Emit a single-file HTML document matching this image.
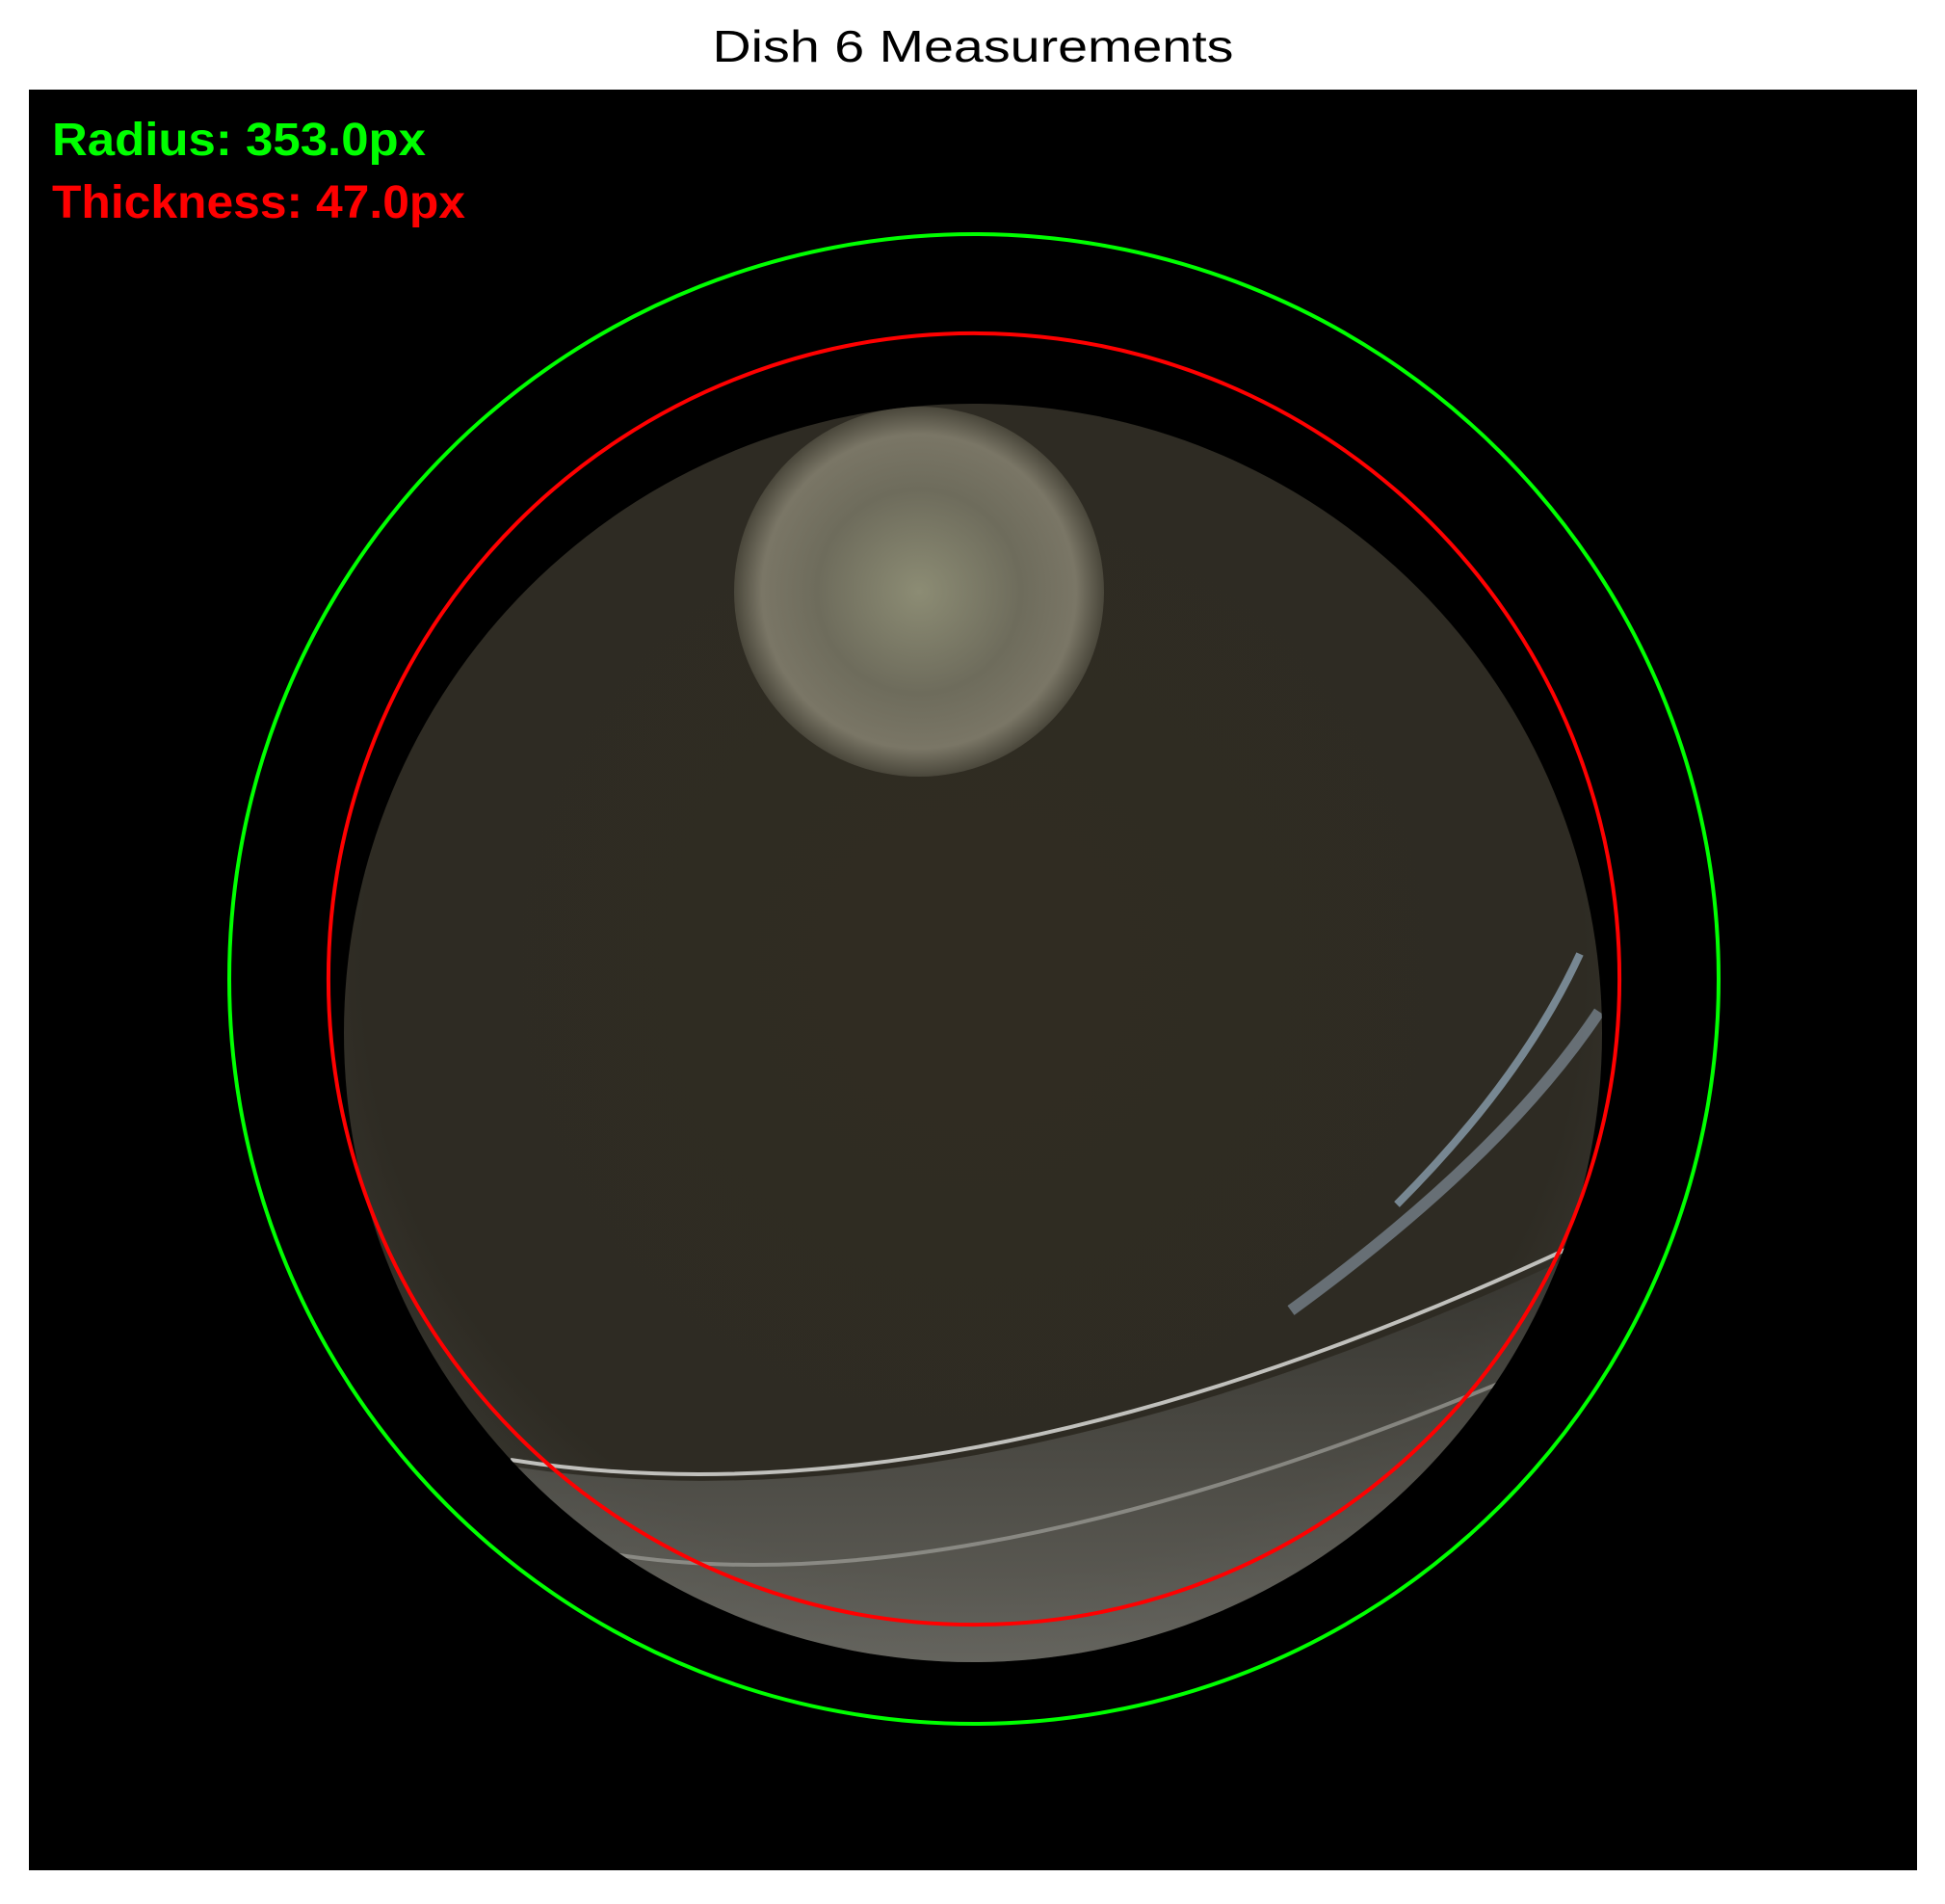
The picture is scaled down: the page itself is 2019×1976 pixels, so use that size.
<!DOCTYPE html>
<html><head><meta charset="utf-8"><style>
html,body{margin:0;padding:0;background:#fff;}
body{width:2019px;height:1971px;overflow:hidden;}
</style></head><body>
<svg width="2019" height="1971" viewBox="0 0 2019 1971" xmlns="http://www.w3.org/2000/svg">
<defs>
<radialGradient id="dishG" cx="0.5" cy="0.45" r="0.6">
<stop offset="0" stop-color="#302c22"/>
<stop offset="0.8" stop-color="#2e2b23"/>
<stop offset="1" stop-color="#3c3c36"/>
</radialGradient>
<radialGradient id="spotG" cx="0.5" cy="0.5" r="0.5">
<stop offset="0" stop-color="#8c8c74"/>
<stop offset="0.55" stop-color="#6e6c5c"/>
<stop offset="0.85" stop-color="#7a7666"/>
<stop offset="1" stop-color="#4a473b"/>
</radialGradient>
<linearGradient id="rimG" x1="0" y1="0" x2="0" y2="1">
<stop offset="0" stop-color="#3a3a36"/>
<stop offset="1" stop-color="#8a8a84"/>
</linearGradient>
<clipPath id="dishClip"><circle cx="1010" cy="1072" r="653"/></clipPath>
</defs>
<text x="1010" y="64" text-anchor="middle" font-family="Liberation Sans, DejaVu Sans, sans-serif" font-size="46" fill="#000" textLength="541" lengthAdjust="spacingAndGlyphs">Dish 6 Measurements</text>
<rect x="30" y="93" width="1960" height="1848" fill="#000"/>
<g clip-path="url(#dishClip)">
<rect x="350" y="410" width="1320" height="1320" fill="url(#dishG)"/>
<path d="M520 1520 Q1000 1600 1640 1300 L1700 1300 L1700 1760 L400 1760 Z" fill="url(#rimG)" opacity="0.6"/>
<path d="M530 1515 Q1000 1590 1640 1290" stroke="#c0c0bc" stroke-width="4" fill="none"/>
<path d="M620 1610 Q1000 1680 1640 1400" stroke="#a0a09a" stroke-width="4" fill="none" opacity="0.7"/>
<path d="M1340 1360 Q1560 1200 1660 1050" stroke="#9fb3c8" stroke-width="12" fill="none" opacity="0.5"/>
<path d="M1450 1250 Q1580 1120 1640 990" stroke="#a9c4dc" stroke-width="8" fill="none" opacity="0.6"/>
<circle cx="954" cy="614" r="192" fill="url(#spotG)"/>
</g>
<g id="rings"></g>
<text x="54" y="161" font-family="Liberation Sans, DejaVu Sans, sans-serif" font-weight="bold" font-size="48" fill="#00ff00" textLength="388" lengthAdjust="spacingAndGlyphs">Radius: 353.0px</text>
<text x="54" y="226" font-family="Liberation Sans, DejaVu Sans, sans-serif" font-weight="bold" font-size="48" fill="#ff0000" textLength="429" lengthAdjust="spacingAndGlyphs">Thickness: 47.0px</text>
</svg>
<script>
const ringNames = ['outer-radius-circle', 'inner-thickness-circle'];
const ringRadii = [353, 306];
const ringColors = ['#00ff00', '#ff0000'];
const centerXY = [1011, 1016];
const pxScale = 773 / 353;
const g = document.getElementById('rings');
for (let i = 0; i < ringRadii.length; i++) {
  const c = document.createElementNS('http://www.w3.org/2000/svg', 'circle');
  c.setAttribute('cx', centerXY[0]);
  c.setAttribute('cy', centerXY[1]);
  c.setAttribute('r', ringRadii[i] * pxScale);
  c.setAttribute('fill', 'none');
  c.setAttribute('stroke', ringColors[i]);
  c.setAttribute('stroke-width', '4');
  
  
  g.appendChild(c);
}
</script>
</body></html>
